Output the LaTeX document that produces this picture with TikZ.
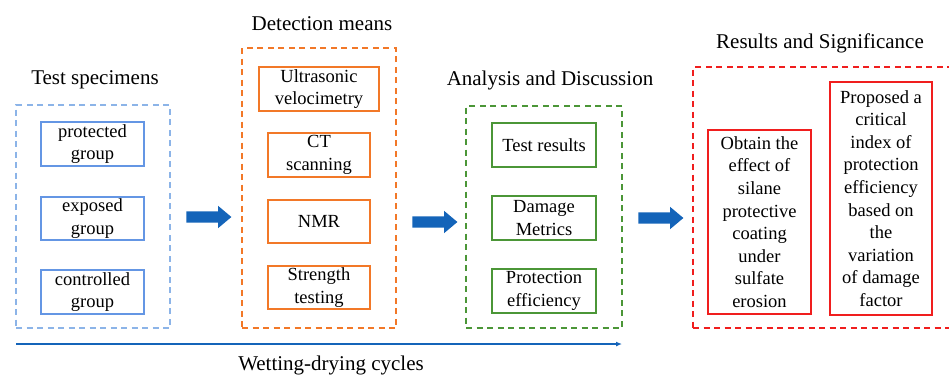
\documentclass[tikz,border=0pt]{standalone}
\usepackage{fontspec}
\setmainfont{Liberation Serif}
\usetikzlibrary{shapes.arrows,arrows.meta}
\definecolor{lblue}{RGB}{140,180,232}
\definecolor{iblue}{RGB}{100,150,228}
\definecolor{orng}{RGB}{242,120,40}
\definecolor{grn}{RGB}{75,150,55}
\definecolor{rd}{RGB}{240,30,30}
\definecolor{darr}{RGB}{20,100,185}
\begin{document}
\begin{tikzpicture}[x=1pt,y=-1pt,
  title/.style={font=\fontsize{21}{25}\selectfont, inner sep=0pt},
  frame/.style={draw, dashed, dash pattern=on 6pt off 4.5pt, line width=1.4pt, inner sep=0pt},
  item/.style={draw, line width=1.3pt, align=center, inner sep=0pt,
    font=\fontsize{18.5}{22.6}\selectfont},
  blk/.style={single arrow, fill=darr, draw=none, inner sep=0pt, inner ysep=5.5pt,
    single arrow head extend=5.5pt, single arrow tip angle=80, minimum height=45pt}
]
\useasboundingbox (0,0) rectangle (949,378);

% group 1
\node[title] (t1) at (95,80) {Test specimens};
\node[frame, draw=lblue, minimum width=154pt, minimum height=223pt] (g1) at (93,216.5) {};
\node[item, draw=iblue, minimum width=103pt, minimum height=44pt] (a1) at (92.5,144) {protected\\group};
\node[item, draw=iblue, minimum width=103pt, minimum height=43pt] (a2) at (92.5,218.5) {exposed\\group};
\node[item, draw=iblue, minimum width=103pt, minimum height=44pt] (a3) at (92.5,292) {controlled\\group};

% group 2
\node[title] (t2) at (322,24) {Detection means};
\node[frame, draw=orng, minimum width=154pt, minimum height=280pt] (g2) at (319,188) {};
\node[item, draw=orng, minimum width=120pt, minimum height=44pt] (b1) at (319,89) {Ultrasonic\\velocimetry};
\node[item, draw=orng, minimum width=102pt, minimum height=44pt] (b2) at (319,155) {CT\\scanning};
\node[item, draw=orng, minimum width=102pt, minimum height=43pt] (b3) at (319,221.5) {NMR};
\node[item, draw=orng, minimum width=102pt, minimum height=43pt] (b4) at (319,287.5) {Strength\\testing};

% group 3
\node[title] (t3) at (550,80) {Analysis and Discussion};
\node[frame, draw=grn, minimum width=156pt, minimum height=222pt] (g3) at (544,217) {};
\node[item, draw=grn, minimum width=104pt, minimum height=44pt] (c1) at (544,145) {Test results};
\node[item, draw=grn, minimum width=104pt, minimum height=44pt] (c2) at (544,218) {Damage\\Metrics};
\node[item, draw=grn, minimum width=104pt, minimum height=44pt] (c3) at (544,291) {Protection\\efficiency};

% group 4
\node[title] (t4) at (820,43) {Results and Significance};
\node[frame, draw=rd, minimum width=262pt, minimum height=261pt] (g4) at (824,197.5) {};
\node[item, draw=rd, minimum width=103pt, minimum height=184pt] (d1) at (759.5,222)
  {Obtain the\\effect of\\silane\\protective\\coating\\under\\sulfate\\erosion};
\node[item, draw=rd, minimum width=102pt, minimum height=233pt] (d2) at (881,198.5)
  {Proposed a\\critical\\index of\\protection\\efficiency\\based on\\the\\variation\\of damage\\factor};

% block arrows
\node[blk] (p1) at (205.5,217) {};
\node[blk] (p2) at (431.5,222) {};
\node[blk] (p3) at (657.5,218) {};

% wetting-drying axis
\coordinate (ws) at (16,344);
\coordinate (we) at (622,344);
\draw[darr, line width=1.3pt, -{Latex[length=6pt,width=5pt]}] (ws) -- (we);
\node[title] (wl) at (331,365) {Wetting-drying cycles};
\end{tikzpicture}
\end{document}
